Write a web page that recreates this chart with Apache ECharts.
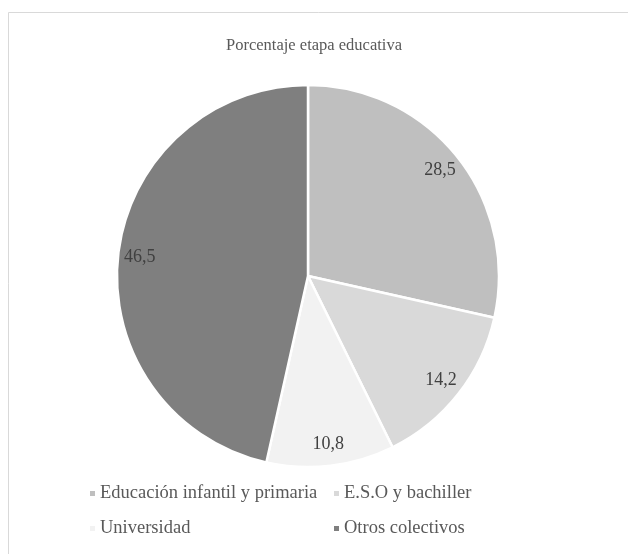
<!DOCTYPE html>
<html>
<head>
<meta charset="utf-8">
<script src="https://cdn.jsdelivr.net/npm/echarts@6/dist/echarts.min.js"></script>
<style>
html,body{margin:0;padding:0;background:#fff;}
#main{width:628px;height:554px;}
</style>
</head>
<body>
<div id="main"></div>
<script>
const title = 'Porcentaje etapa educativa';
const categories = ['Educación infantil y primaria', 'E.S.O y bachiller', 'Universidad', 'Otros colectivos'];
const values = [28.5, 14.2, 10.8, 46.5];
const colors = ['#bfbfbf', '#d9d9d9', '#f2f2f2', '#7f7f7f'];

const FONT = '"Liberation Serif", "DejaVu Serif", serif';
const chart = echarts.init(document.getElementById('main'), null, {renderer: 'canvas'});
const data = categories.map((c, i) => ({name: c, value: values[i], itemStyle: {color: colors[i]}}));
const R = 191;
chart.setOption({
  animation: false,
  backgroundColor: '#fff',
  title: {
    text: title, left: 'center', top: 32,
    textStyle: {fontFamily: FONT, fontSize: 16.5, fontWeight: 'normal', color: '#595959'}
  },
  graphic: [{
    type: 'rect', shape: {x: 8.5, y: 12.5, width: 700, height: 700},
    style: {fill: 'none', stroke: '#d9d9d9', lineWidth: 1}, silent: true
  }],
  legend: [
    {
      data: [categories[0], categories[2]], orient: 'vertical', left: 83, top: 479,
      itemWidth: 7, itemHeight: 7, itemGap: 16, icon: 'rect',
      textStyle: {fontFamily: FONT, fontSize: 18.5, color: '#595959', padding: [0, 0, 0, -1]}
    },
    {
      data: [categories[1], categories[3]], orient: 'vertical', left: 327, top: 479,
      itemWidth: 7, itemHeight: 7, itemGap: 16, icon: 'rect',
      textStyle: {fontFamily: FONT, fontSize: 18.5, color: '#595959', padding: [0, 0, 0, -1]}
    }
  ],
  series: [
    {
      type: 'pie', center: [308, 276], radius: [0, R], startAngle: 90, clockwise: true,
      data: data,
      itemStyle: {borderColor: '#fff', borderWidth: 2.5},
      label: {show: false}, labelLine: {show: false},
      emphasis: {disabled: true}
    },
    {
      type: 'pie', center: [308, 276], radius: [R * 0.74, R], startAngle: 90, clockwise: true,
      data: data.map(d => ({name: d.name, value: d.value})),
      itemStyle: {color: 'rgba(0,0,0,0)', borderWidth: 0},
      label: {
        show: true, position: 'inside',
        formatter: p => String(p.value).replace('.', ','),
        fontFamily: FONT, fontSize: 18, color: '#404040'
      },
      labelLine: {show: false}, silent: true,
      emphasis: {disabled: true}
    }
  ]
});
</script>
</body>
</html>
